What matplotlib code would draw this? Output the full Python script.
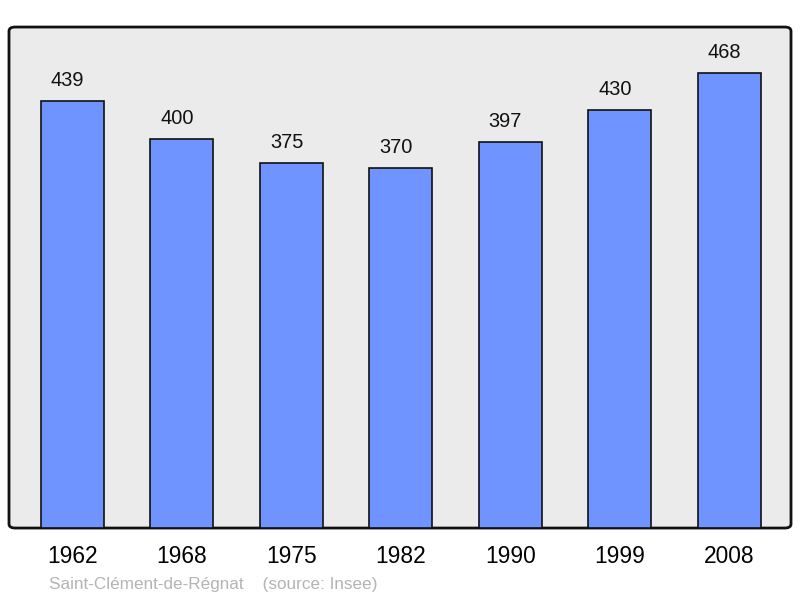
import matplotlib.pyplot as plt
from matplotlib.patches import FancyBboxPatch

years  = ["1962", "1968", "1975", "1982", "1990", "1999", "2008"]
values = [439, 400, 375, 370, 397, 430, 468]
place  = "Saint-Clément-de-Régnat"
source = "(source: Insee)"

plt.rcParams["font.family"] = ["Liberation Sans", "DejaVu Sans"]

fig = plt.figure(figsize=(8, 5.98), dpi=100)
ax = fig.add_axes([0.01125, 0.117, 0.9775, 0.8378])
ax.set_facecolor("none")
for s in ax.spines.values():
    s.set_visible(False)

frame = FancyBboxPatch((0, 0), 1, 1, boxstyle="round,pad=0,rounding_size=0.008",
                       transform=ax.transAxes, facecolor="#ebebeb",
                       edgecolor="#111111", linewidth=2, zorder=0, clip_on=False)
ax.add_patch(frame)

x = range(len(years))
ax.bar(x, values, width=0.575, color="#7094ff", edgecolor="#111111",
       linewidth=1.2, zorder=2)
for i, v in zip(x, values):
    ax.annotate(str(v), (i, v), xytext=(-3.5, 8), textcoords="offset points",
                ha="center", va="bottom", fontsize=14.4, color="#111111")

ax.set_xlim(-0.58, 6.565)
ax.set_ylim(0, 515)
ax.set_yticks([])
ax.set_xticks(list(x))
ax.set_xticklabels(years, fontsize=16.4)
ax.tick_params(axis="x", length=0, pad=12.5)

fig.text(49 / 800, 1 - 584 / 598, place + "    " + source, color="#b4b4b4",
         fontsize=12.3, ha="left", va="center")

fig.savefig("out.png", dpi=100)
